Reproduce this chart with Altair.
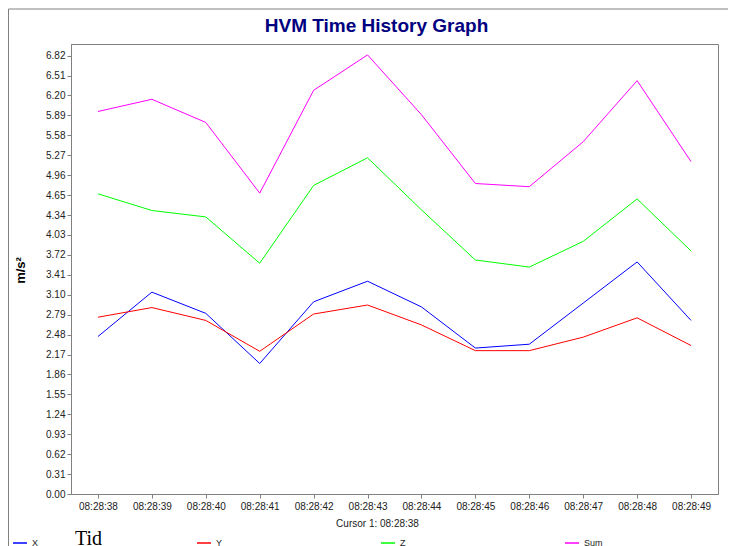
import altair as alt
import pandas as pd

times = ["08:28:38", "08:28:39", "08:28:40", "08:28:41", "08:28:42", "08:28:43",
         "08:28:44", "08:28:45", "08:28:46", "08:28:47", "08:28:48", "08:28:49"]
x_vals = [2.45, 3.14, 2.81, 2.03, 2.99, 3.31, 2.91, 2.27, 2.33, 2.97, 3.61, 2.70]
y_vals = [2.75, 2.90, 2.70, 2.22, 2.80, 2.94, 2.63, 2.23, 2.23, 2.44, 2.74, 2.31]
z_vals = [4.67, 4.41, 4.31, 3.59, 4.80, 5.23, 4.42, 3.64, 3.53, 3.93, 4.59, 3.78]
sum_vals = [5.95, 6.14, 5.78, 4.68, 6.28, 6.83, 5.90, 4.83, 4.78, 5.48, 6.43, 5.17]

series_names = ["X", "Y", "Z", "Sum"]
series_colors = ["#0000ff", "#ff0000", "#00ff00", "#ff00ff"]
y_ticks = [0.00, 0.31, 0.62, 0.93, 1.24, 1.55, 1.86, 2.17, 2.48, 2.79, 3.10, 3.41,
           3.72, 4.03, 4.34, 4.65, 4.96, 5.27, 5.58, 5.89, 6.20, 6.51, 6.82]

rows = []
for name, vals in zip(series_names, [x_vals, y_vals, z_vals, sum_vals]):
    for t, v in zip(times, vals):
        rows.append({"time": t, "series": name, "value": v})
df = pd.DataFrame(rows)

FONT = "Liberation Sans"
GRAY = "#808080"

lines = alt.Chart(df).mark_line(strokeWidth=1).encode(
    x=alt.X("time:O", sort=times, scale=alt.Scale(type="point", padding=0.5),
            axis=alt.Axis(title="Cursor 1: 08:28:38", labelAngle=0, labelFontSize=10,
                          labelFont=FONT, labelColor="#222222", tickSize=4, tickColor=GRAY,
                          domainColor=GRAY, labelPadding=3, titleFont=FONT, titleFontSize=10,
                          titleFontWeight="normal", titleColor="#222222", titleX=306, titleY=29,
                          titleBaseline="middle", titleAnchor="middle", titleAlign="center")),
    y=alt.Y("value:Q", scale=alt.Scale(domain=[0, 7.0], nice=False, zero=True),
            axis=alt.Axis(values=y_ticks, format=".2f", title="m/s²", titleFont=FONT,
                          titleFontSize=13, titleFontWeight="bold", titleColor="#000000",
                          titleX=-51, titleY=226, titleBaseline="middle", titleAlign="center",
                          labelFontSize=10, labelFont=FONT, labelColor="#222222", tickSize=4,
                          tickColor=GRAY, domainColor=GRAY, labelPadding=2, grid=False)),
    color=alt.Color("series:N", sort=series_names,
                    scale=alt.Scale(domain=series_names, range=series_colors),
                    legend=alt.Legend(title=None, orient="none", legendX=-59, legendY=491,
                                      direction="horizontal", columns=4, gridAlign="all",
                                      columnPadding=143, symbolType="stroke", symbolSize=196,
                                      symbolStrokeWidth=1.5, labelFontSize=9, labelFont=FONT,
                                      labelColor="#222222", labelOffset=4, padding=0)),
)

one = alt.Data(values=[{}])

frame_left = alt.Chart(one).mark_rule(color=GRAY, strokeWidth=1).encode(
    x=alt.value(-62.5), y=alt.value(-35), y2=alt.value(502))
frame_top = alt.Chart(one).mark_rule(color=GRAY, strokeWidth=1).encode(
    x=alt.value(-62.5), x2=alt.value(657), y=alt.value(-35))

top_text = alt.Chart(one).mark_text(align="left", baseline="alphabetic", fontSize=28,
                                    font=FONT, color="#000000").encode(
    x=alt.value(-58), y=alt.value(-44), text=alt.value("Venstre hånd – Måling 2"))

title_text = alt.Chart(one).mark_text(align="center", baseline="alphabetic", fontSize=19,
                                      fontWeight="bold", font=FONT, color="#000080").encode(
    x=alt.value(305.5), y=alt.value(-12), text=alt.value("HVM Time History Graph"))

tid_text = alt.Chart(one).mark_text(align="left", baseline="alphabetic", fontSize=20,
                                    font="Liberation Serif", color="#000000").encode(
    x=alt.value(4), y=alt.value(501), text=alt.value("Tid"))

chart = alt.layer(lines, frame_left, frame_top, top_text, title_text, tid_text).properties(
    width=647, height=450,
    autosize=alt.AutoSizeParams(type="none"),
    padding={"left": 63, "top": 36, "right": 10, "bottom": 52},
).configure_view(stroke=GRAY, strokeWidth=1)

chart.save("out.html", embed_options={"renderer": "svg", "actions": False})
